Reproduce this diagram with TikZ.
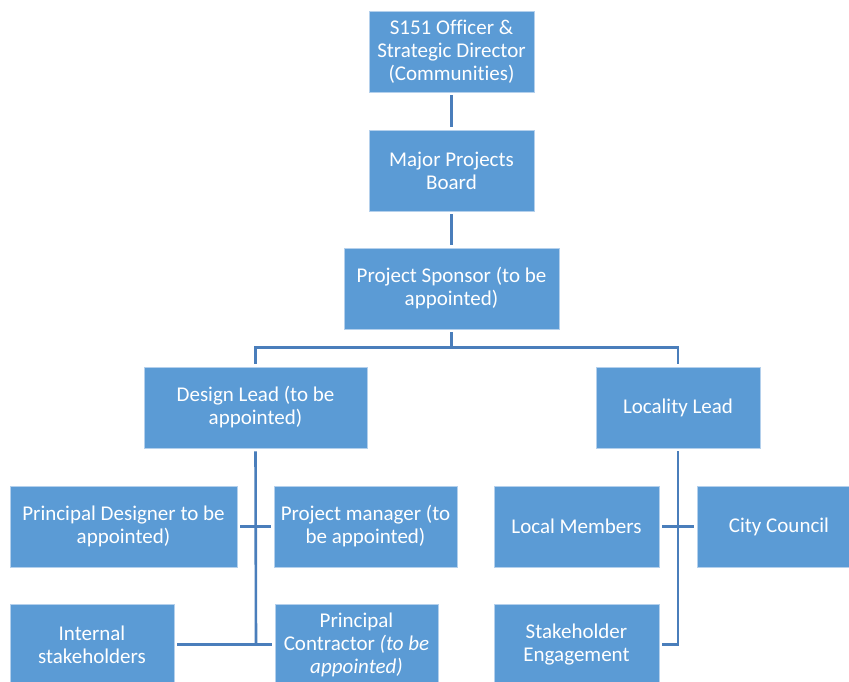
\documentclass[tikz,border=0pt]{standalone}
\usepackage{fontspec}
\setmainfont[Ligatures=NoCommon]{Carlito}
\definecolor{boxblue}{RGB}{91,155,213}
\definecolor{boxedge}{RGB}{180,208,236}
\definecolor{linkblue}{RGB}{74,126,187}
\begin{document}
\begin{tikzpicture}[x=1pt,y=-1pt,
  orgbox/.style={fill=boxblue, draw=boxedge, line width=0.8pt, text=white,
    align=center, inner sep=0pt, minimum height=81pt,
    font=\fontsize{21}{23}\selectfont},
  conn/.style={draw=linkblue, line width=2.6pt, shorten <=3pt, shorten >=3pt}]
\clip (0,0) rectangle (849,682);
\fill[white] (0,0) rectangle (849,682);
\node[orgbox, minimum width=165pt] (s151) at (451.5,51.5) {S151 Officer \&\\Strategic Director\\(Communities)};
\node[orgbox, minimum width=165pt] (mpb) at (451.5,170.5) {Major Projects\\Board};
\node[orgbox, minimum width=215pt] (ps) at (451.5,288.5) {Project Sponsor (to be\\appointed)};
\node[orgbox, minimum width=223pt] (dl) at (255.5,407.5) {Design Lead (to be\\appointed)};
\node[orgbox, minimum width=164pt] (ll) at (678,407.5) {Locality Lead};
\node[orgbox, minimum width=227pt] (pd) at (123.5,526.5) {Principal Designer to be\\appointed)};
\node[orgbox, minimum width=183pt] (pm) at (365.5,526.5) {Project manager (to\\be appointed)};
\node[orgbox, minimum width=165pt] (lm) at (576.5,526.5) {Local Members};
\node[orgbox, minimum width=164pt] (cc) at (779,526.5) {City Council};
\node[orgbox, minimum width=164pt] (is) at (92,644.5) {Internal\\stakeholders};
\node[orgbox, minimum width=163pt] (pc) at (356.5,644.5) {Principal\\Contractor \textit{(to be}\\\textit{appointed)}};
\node[orgbox, minimum width=165pt] (se) at (576.5,644.5) {Stakeholder\\Engagement};
\coordinate (j1) at (451.5,348);
\coordinate (dlb) at (256,644);
\draw[conn] (s151.south) -- (mpb.north);
\draw[conn] (mpb.south) -- (ps.north);
\draw[conn, shorten >=0pt] (ps.south) -- (j1);
\draw[conn] (dl.north) -- ++(0,-19) -| (ll.north);
\draw[conn, shorten >=0pt] (dl.south) -- (dlb);
\draw[conn] (is.east) -- (pc.west);
\draw[conn] (pd.east) -- (pm.west);
\draw[conn] (ll.south) |- (se.east);
\draw[conn] (lm.east) -- (cc.west);
\end{tikzpicture}
\end{document}
